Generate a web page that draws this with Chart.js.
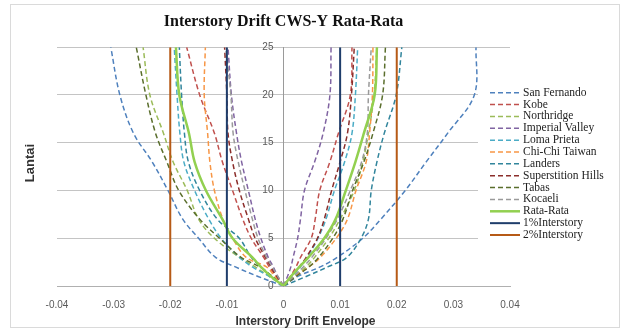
<!DOCTYPE html>
<html>
<head>
<meta charset="utf-8">
<script src="https://cdn.jsdelivr.net/npm/chart.js@4.4.1/dist/chart.umd.min.js"></script>
<style>
  html, body { margin: 0; padding: 0; background: #ffffff; }
  #wrap { width: 633px; height: 331px; }
</style>
</head>
<body>
<div id="wrap"><canvas id="c" width="633" height="331"></canvas></div>
<script>
// ---------- DATA ----------
const floors = [0, 1, 2, 3, 5, 7, 10, 13, 16, 20, 25];
const xTickLabels = ['-0.04', '-0.03', '-0.02', '-0.01', '0', '0.01', '0.02', '0.03', '0.04'];
const yTickLabels = ['0', '5', '10', '15', '20', '25'];
const seriesNames = ['San Fernando', 'Kobe', 'Northridge', 'Imperial Valley', 'Loma Prieta',
  'Chi-Chi Taiwan', 'Landers', 'Superstition Hills', 'Tabas', 'Kocaeli'];

const sanFernandoNeg = [0, -0.0045, -0.0085, -0.0120, -0.0150, -0.0178, -0.0204, -0.0232, -0.0265, -0.0289, -0.0305];
const sanFernandoPos = [0, 0.0025, 0.0065, 0.0095, 0.0140, 0.0172, 0.0215, 0.0252, 0.0290, 0.0337, 0.0340];
const kobeNeg = [0, -0.0012, -0.0025, -0.0035, -0.0057, -0.0072, -0.0090, -0.0108, -0.0122, -0.0148, -0.0171];
const kobePos = [0, 0.0012, 0.0022, 0.0030, 0.0049, 0.0056, 0.0064, 0.0082, 0.0097, 0.0118, 0.0121];
const northridgeNeg = [0, -0.0025, -0.0050, -0.0078, -0.0122, -0.0150, -0.0170, -0.0195, -0.0212, -0.0236, -0.0248];
const northridgePos = [0, 0.0020, 0.0040, 0.0055, 0.0080, 0.0100, 0.0125, 0.0140, 0.0150, 0.0160, 0.0165];
const imperialValleyNeg = [0, -0.0010, -0.0018, -0.0027, -0.0040, -0.0050, -0.0062, -0.0074, -0.0083, -0.0092, -0.0098];
const imperialValleyPos = [0, 0.0007, 0.0013, 0.0017, 0.0025, 0.0030, 0.0037, 0.0055, 0.0070, 0.0082, 0.0084];
const lomaPrietaNeg = [0, -0.0025, -0.0055, -0.0078, -0.0110, -0.0132, -0.0157, -0.0176, -0.0183, -0.0188, -0.0193];
const lomaPrietaPos = [0, 0.0015, 0.0030, 0.0042, 0.0061, 0.0075, 0.0090, 0.0108, 0.0121, 0.0127, 0.0131];
const chiChiNeg = [0, -0.0015, -0.0030, -0.0066, -0.0090, -0.0107, -0.0122, -0.0130, -0.0134, -0.0140, -0.0138];
const chiChiPos = [0, 0.0020, 0.0045, 0.0065, 0.0093, 0.0113, 0.0128, 0.0146, 0.0152, 0.0157, 0.0158];
const landersNeg = [0, -0.0020, -0.0040, -0.0057, -0.0078, -0.0117, -0.0148, -0.0168, -0.0175, -0.0180, -0.0184];
const landersPos = [0, 0.0040, 0.0078, 0.0112, 0.0137, 0.0150, 0.0155, 0.0165, 0.0178, 0.0199, 0.0209];
const superstitionNeg = [0, -0.0012, -0.0022, -0.0032, -0.0050, -0.0062, -0.0078, -0.0090, -0.0098, -0.0100, -0.0104];
const superstitionPos = [0, 0.0014, 0.0028, 0.0040, 0.0060, 0.0072, 0.0085, 0.0100, 0.0113, 0.0120, 0.0125];
const tabasNeg = [0, -0.0020, -0.0042, -0.0075, -0.0113, -0.0148, -0.0185, -0.0206, -0.0226, -0.0243, -0.0260];
const tabasPos = [0, 0.0022, 0.0045, 0.0062, 0.0087, 0.0105, 0.0122, 0.0142, 0.0158, 0.0175, 0.0180];
const kocaeliNeg = [0, -0.0010, -0.0020, -0.0030, -0.0045, -0.0055, -0.0068, -0.0080, -0.0089, -0.0093, -0.0102];
const kocaeliPos = [0, 0.0018, 0.0035, 0.0050, 0.0075, 0.0095, 0.0118, 0.0138, 0.0148, 0.0150, 0.0155];
const rataRataNeg = [0, -0.0022, -0.0040, -0.0055, -0.0090, -0.0108, -0.0137, -0.0157, -0.0167, -0.0184, -0.0190];
const rataRataPos = [0, 0.0013, 0.0028, 0.0044, 0.0072, 0.0092, 0.0110, 0.0127, 0.0142, 0.0161, 0.0165];
const limit1 = [-0.01, 0.01];
const limit2 = [-0.02, 0.02];
const limitFloors = [0, 25];

// ---------- STYLE ----------
const seriesColors = ['#4F81BD', '#C0504D', '#9BBB59', '#8064A2', '#4BACC6',
  '#F79646', '#31859C', '#8B2E2B', '#5A6E2C', '#9A9A9A'];
const negSets = [sanFernandoNeg, kobeNeg, northridgeNeg, imperialValleyNeg, lomaPrietaNeg,
  chiChiNeg, landersNeg, superstitionNeg, tabasNeg, kocaeliNeg];
const posSets = [sanFernandoPos, kobePos, northridgePos, imperialValleyPos, lomaPrietaPos,
  chiChiPos, landersPos, superstitionPos, tabasPos, kocaeliPos];

function pts(xs, ys) { return xs.map((v, i) => ({ x: v, y: ys[i] })); }

const datasets = [];
seriesNames.forEach((name, i) => {
  [negSets[i], posSets[i]].forEach((arr, k) => {
    datasets.push({
      label: name, inLegend: k === 0,
      data: pts(arr, floors),
      borderColor: seriesColors[i], borderWidth: 1.5, borderDash: [5, 3],
      pointRadius: 0, tension: 0.35, fill: false
    });
  });
});
[rataRataNeg, rataRataPos].forEach((arr, k) => datasets.push({
  label: 'Rata-Rata', inLegend: k === 0, data: pts(arr, floors),
  borderColor: '#92D050', borderWidth: 2.5, pointRadius: 0, tension: 0.35, fill: false
}));
limit1.forEach((v, k) => datasets.push({
  label: '1%Interstory', inLegend: k === 0, data: limitFloors.map(f => ({ x: v, y: f })),
  borderColor: '#1F3D6B', borderWidth: 2, pointRadius: 0, fill: false
}));
limit2.forEach((v, k) => datasets.push({
  label: '2%Interstory', inLegend: k === 0, data: limitFloors.map(f => ({ x: v, y: f })),
  borderColor: '#B65A16', borderWidth: 2, pointRadius: 0, fill: false
}));
datasets.forEach((d, i) => { d.order = datasets.length - i; });

const decor = {
  id: 'decor',
  beforeDraw(chart) {
    const ctx = chart.ctx;
    ctx.save();
    ctx.fillStyle = '#ffffff';
    ctx.fillRect(0, 0, chart.width, chart.height);
    ctx.strokeStyle = '#DADADA';
    ctx.lineWidth = 1;
    ctx.strokeRect(10.5, 4.5, 609, 323);
    ctx.restore();
  },
  afterDraw(chart) {
    const ctx = chart.ctx;
    ctx.save();
    // legend
    ctx.fillStyle = '#ffffff';
    ctx.fillRect(478, 84, 140, 160);
    let y = 92.7;
    chart.data.datasets.filter(d => d.inLegend).forEach(d => {
      ctx.beginPath();
      ctx.setLineDash(d.borderDash || []);
      ctx.lineWidth = d.borderWidth;
      ctx.strokeStyle = d.borderColor;
      ctx.moveTo(490, y); ctx.lineTo(520, y);
      ctx.stroke();
      ctx.setLineDash([]);
      ctx.fillStyle = '#222222';
      ctx.font = '11.5px "Liberation Serif"';
      ctx.textBaseline = 'middle';
      ctx.textAlign = 'left';
      ctx.fillText(d.label, 523, y);
      y += 11.86;
    });
    // axis titles
    ctx.fillStyle = '#333333';
    ctx.font = 'bold 12px "Liberation Sans"';
    ctx.textAlign = 'center';
    ctx.textBaseline = 'middle';
    ctx.fillText('Interstory Drift Envelope', 305.5, 321.5);
    ctx.translate(30, 163);
    ctx.rotate(-Math.PI / 2);
    ctx.font = 'bold 13px "Liberation Sans"';
    ctx.fillText('Lantai', 0, 0);
    ctx.restore();
  }
};

new Chart(document.getElementById('c'), {
  type: 'line',
  data: { datasets },
  plugins: [decor],
  options: {
    responsive: false,
    animation: false,
    layout: { padding: { left: 57, right: 123, top: 0, bottom: 0 } },
    plugins: {
      legend: { display: false },
      tooltip: { enabled: false },
      title: {
        display: true, text: 'Interstory Drift CWS-Y Rata-Rata', color: '#111111',
        font: { family: '"Liberation Serif"', size: 16, weight: 'bold' },
        padding: { top: 12, bottom: 16 }
      }
    },
    scales: {
      x: {
        type: 'linear', min: -0.04, max: 0.04,
        afterFit: s => { s.height = 45; },
        grid: { display: false },
        border: { display: true, color: '#B0B0B0' },
        ticks: {
          stepSize: 0.01, padding: 5, color: '#595959', autoSkip: false, maxRotation: 0,
          font: { family: '"Liberation Sans"', size: 10 },
          callback: (v) => xTickLabels[Math.round((v + 0.04) / 0.01)]
        }
      },
      y: {
        type: 'linear', min: 0, max: 25, position: { x: 0 },
        afterFit: s => { s.width = 0; },
        grid: { color: '#C4C4C4', drawTicks: false },
        border: { display: true, color: '#9A9A9A' },
        ticks: { stepSize: 5, display: false }
      },
      yLabels: {
        type: 'linear', axis: 'y', min: 0, max: 25, position: { x: -0.00177 },
        afterFit: s => { s.width = 0; },
        grid: { display: false, drawTicks: false },
        border: { display: false },
        ticks: {
          stepSize: 5, padding: 0, color: '#595959',
          font: { family: '"Liberation Sans"', size: 10 },
          callback: (v) => yTickLabels[Math.round(v / 5)]
        }
      }
    }
  }
});
</script>
</body>
</html>
